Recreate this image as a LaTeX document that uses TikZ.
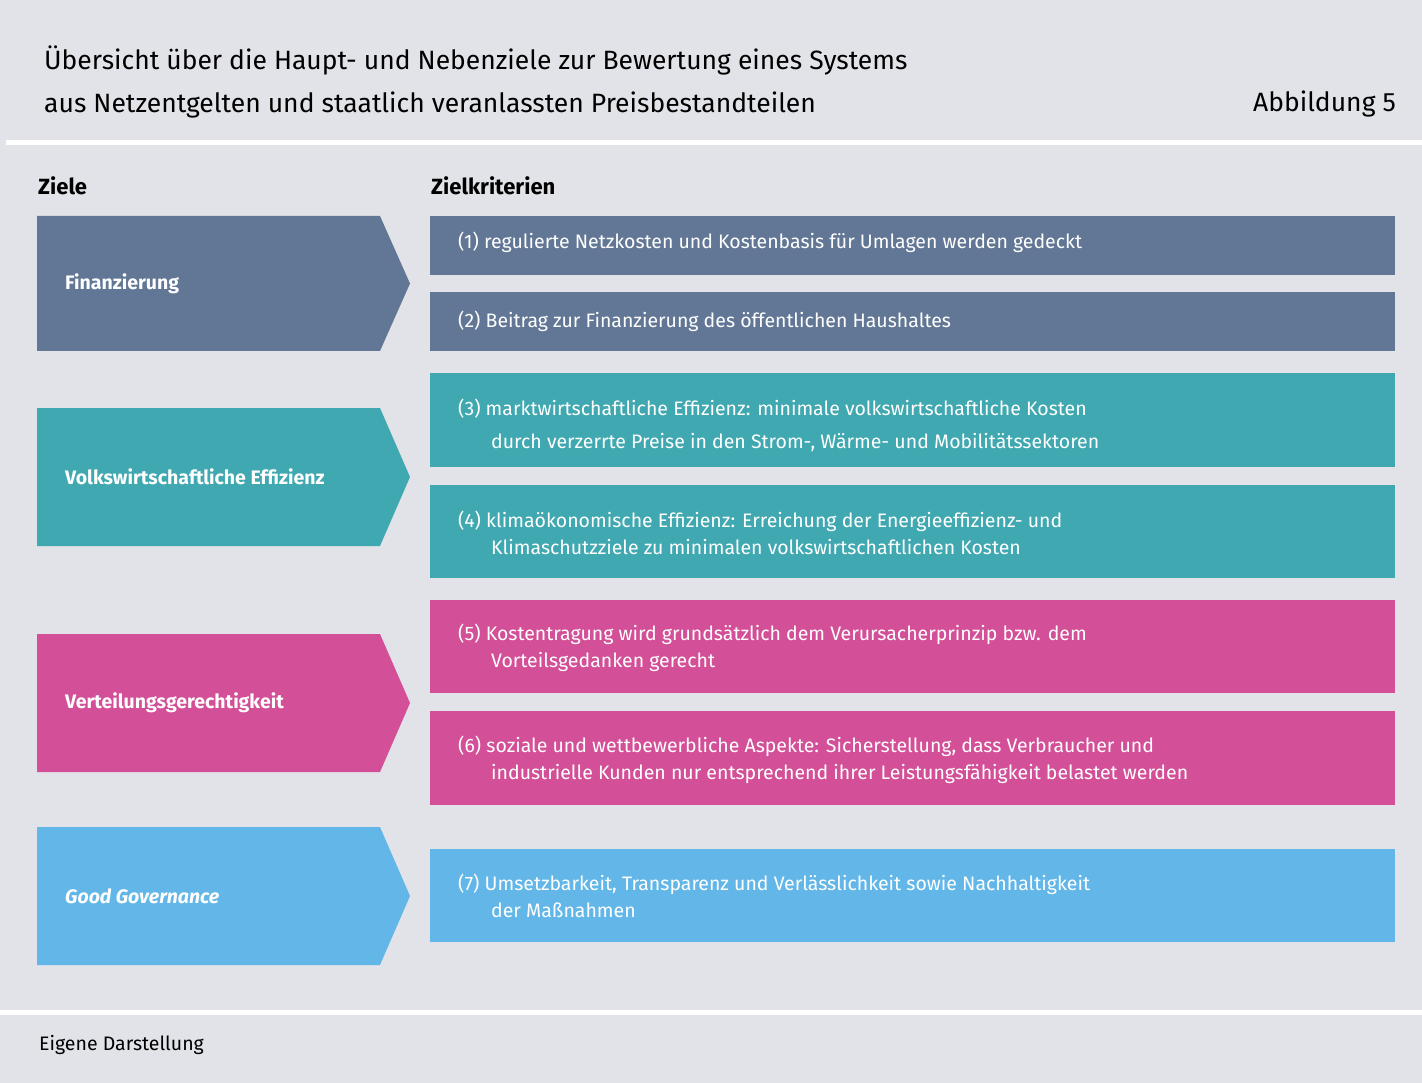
\documentclass[tikz,border=0pt]{standalone}
\usepackage{fontspec}
\setmainfont{Fira Sans}
\definecolor{bg}{HTML}{E2E3E8}
\definecolor{cA}{HTML}{627795}
\definecolor{cB}{HTML}{40A8B0}
\definecolor{cC}{HTML}{D34F97}
\definecolor{cD}{HTML}{62B7E8}
\begin{document}
\begin{tikzpicture}[x=1pt,y=-1pt,
  txt/.style={anchor=west,text=white,font=\fontsize{19.5}{27}\selectfont,align=left,inner sep=0},
  lab/.style={anchor=west,text=white,font=\fontsize{19.5}{24}\selectfont\bfseries,inner sep=0},
  hdr/.style={anchor=west,font=\fontsize{22}{26}\selectfont\bfseries,inner sep=0}]
\fill[bg] (0,0) rectangle (1422,1083);
\fill[white] (6,140) rectangle (1422,145);
\fill[white] (0,1010) rectangle (1422,1015);
\node[anchor=west,inner sep=0,align=left,font=\fontsize{26.5}{43}\selectfont] (title) at (44,82) {Übersicht über die Haupt- und Nebenziele zur Bewertung eines Systems\\aus Netzentgelten und staatlich veranlassten Preisbestandteilen};
\node[anchor=east,inner sep=0,font=\fontsize{26.5}{32}\selectfont] (abb) at (1396,104) {Abbildung 5};
\node[hdr] (h1) at (38,186) {Ziele};
\node[hdr] (h2) at (431,186) {Zielkriterien};
% chevrons
\foreach \n/\c/\a/\b in {ca/cA/216/351, cb/cB/408/546, cc/cC/634/772, cd/cD/827/965}{
  \fill[\c] (37,\a) -- (380,\a) -- (410,{(\a+\b)/2}) -- (380,\b) -- (37,\b) -- cycle;
}
\node[lab] (la) at (65,283.5) {Finanzierung};
\node[lab] (lb) at (65,477) {Volkswirtschaftliche Effizienz};
\node[lab] (lc) at (65,703) {Verteilungsgerechtigkeit};
\node[lab] (ld) at (65,896) {\itshape Good Governance};
% boxes
\foreach \c/\a/\b in {cA/216/275, cA/292/351, cB/373/467, cB/485/578, cC/600/693, cC/711/805, cD/849/942}{
  \fill[\c] (430,\a) rectangle (1395,\b);
}
\node[txt] (t1) at (458,242) {(1) regulierte Netzkosten und Kostenbasis für Umlagen werden gedeckt};
\node[txt] (t2) at (458,321) {(2) Beitrag zur Finanzierung des öffentlichen Haushaltes};
\node[txt,font=\fontsize{19.5}{33}\selectfont] (t3) at (458,425) {(3) marktwirtschaftliche Effizienz: minimale volkswirtschaftliche Kosten\\\hspace*{33pt}durch verzerrte Preise in den Strom-, Wärme- und Mobilitätssektoren};
\node[txt] (t4) at (458,533) {(4) klimaökonomische Effizienz: Erreichung der Energieeffizienz- und\\\hspace*{33pt}Klimaschutzziele zu minimalen volkswirtschaftlichen Kosten};
\node[txt] (t5) at (458,648) {(5) Kostentragung wird grundsätzlich dem Verursacherprinzip bzw. dem\\\hspace*{33pt}Vorteilsgedanken gerecht};
\node[txt] (t6) at (458,760) {(6) soziale und wettbewerbliche Aspekte: Sicherstellung, dass Verbraucher und\\\hspace*{33pt}industrielle Kunden nur entsprechend ihrer Leistungsfähigkeit belastet werden};
\node[txt] (t7) at (458,896) {(7) Umsetzbarkeit, Transparenz und Verlässlichkeit sowie Nachhaltigkeit\\\hspace*{33pt}der Maßnahmen};
\node[anchor=west,inner sep=0,font=\fontsize{19.5}{24}\selectfont] (foot) at (39,1045) {Eigene Darstellung};
\end{tikzpicture}
\end{document}
